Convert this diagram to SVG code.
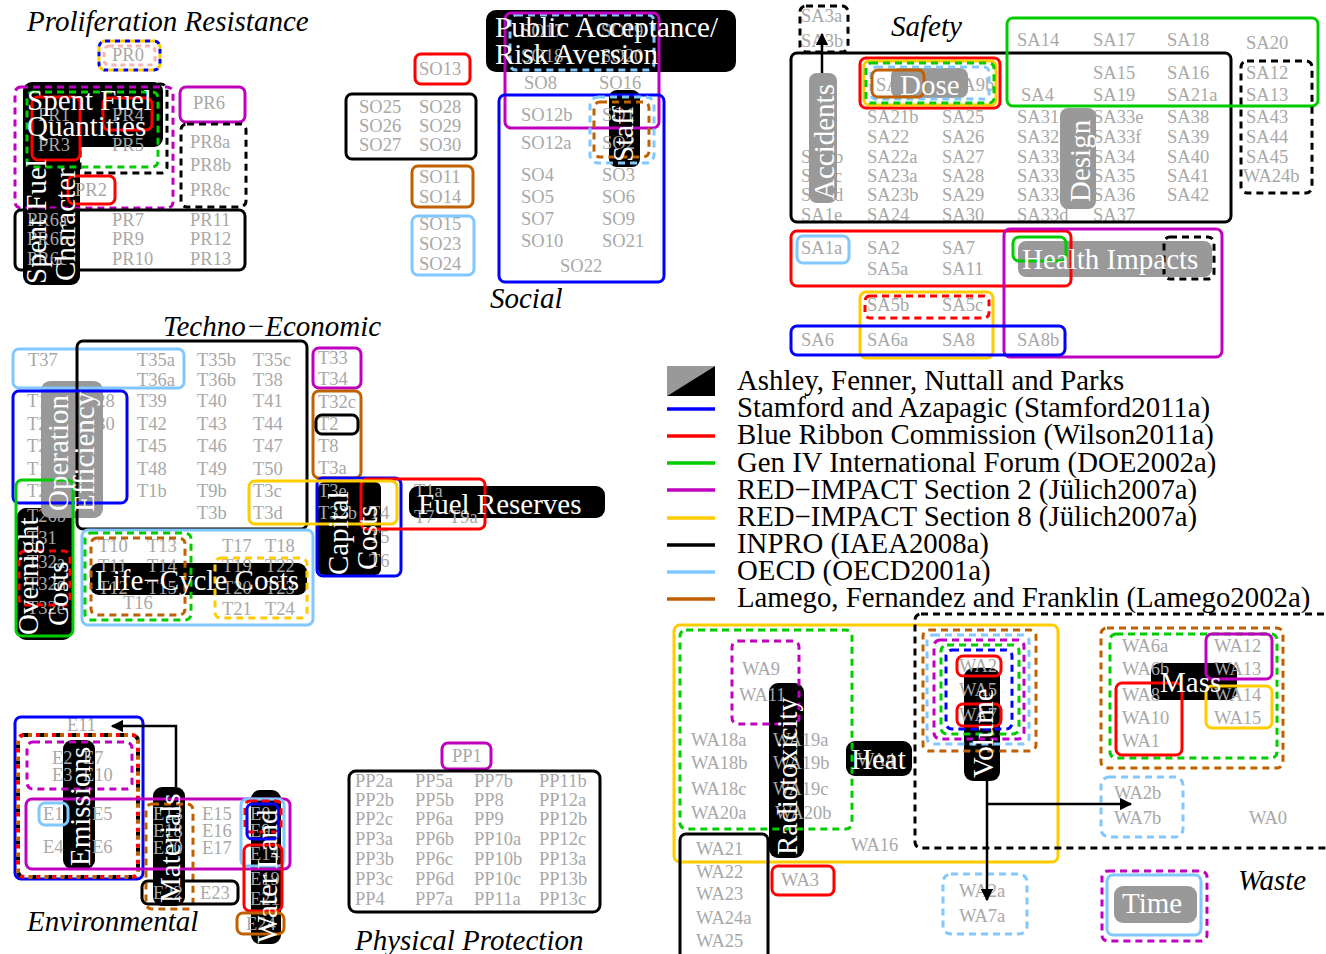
<svg xmlns="http://www.w3.org/2000/svg" width="1326" height="954" viewBox="0 0 1326 954">
<defs>
<marker id="ah" viewBox="0 0 10 10" refX="9" refY="5" markerWidth="5" markerHeight="5" orient="auto"><path d="M0,0 L10,5 L0,10 z" fill="#000"/></marker>
<style>
.s{fill:none;stroke-width:3}
.k{stroke:#000}.b{stroke:#0000ff}.r{stroke:#ff0000}.g{stroke:#00cc00}.m{stroke:#bf00bf}.y{stroke:#ffcc00}.c{stroke:#80c8ff}.o{stroke:#c06000}
.d{stroke-dasharray:7 5}
.fk{fill:#000}.fg{fill:#999}
.t{font-family:"Liberation Serif",serif;font-size:18.5px;fill:#a8a8a8}
.w{font-family:"Liberation Serif",serif;font-size:29px;fill:#fff}
.h{font-family:"Liberation Serif",serif;font-size:29px;font-style:italic;fill:#000}
.l{font-family:"Liberation Serif",serif;font-size:28.8px;fill:#000}
.ln{stroke-width:3.5}
.cn{fill:none;stroke:#000;stroke-width:2.5;marker-end:url(#ah)}
</style>
</defs>
<rect width="1326" height="954" fill="#fff"/>

<g id="proliferation">
<text class="h" x="27" y="31">Proliferation Resistance</text>
<rect class="s b" x="99" y="41" width="61" height="29" rx="6" stroke-dasharray="5 5"/>
<rect class="s y" x="99" y="41" width="61" height="29" rx="6" stroke-dasharray="5 5" stroke-dashoffset="5"/>
<rect class="s" x="104" y="46" width="51" height="19" rx="5" stroke="#f6b4b4" stroke-dasharray="5 4"/>
<text class="t" x="112" y="61">PR0</text>
<rect class="s k d" x="80" y="84" width="87" height="89" rx="6"/>
<rect class="fk" x="23" y="82" width="140" height="65" rx="9"/>
<rect class="fk" x="23" y="133" width="57" height="152" rx="9"/>
<text class="t" x="38" y="121">PR1</text><text class="t" x="112" y="121">PR4</text>
<text class="t" x="38" y="151">PR3</text><text class="t" x="112" y="151">PR5</text>
<text class="t" x="75" y="196">PR2</text>
<text class="t" x="193" y="109">PR6</text>
<text class="t" x="190" y="148">PR8a</text><text class="t" x="190" y="171">PR8b</text><text class="t" x="190" y="196">PR8c</text>
<text class="t" x="27" y="226">PR6a</text><text class="t" x="27" y="245">PR6b</text><text class="t" x="27" y="265">PR6c</text>
<text class="t" x="112" y="226">PR7</text><text class="t" x="112" y="245">PR9</text><text class="t" x="112" y="265">PR10</text>
<text class="t" x="190" y="226">PR11</text><text class="t" x="190" y="245">PR12</text><text class="t" x="190" y="265">PR13</text>
<rect class="s m d" x="15" y="87" width="158" height="121" rx="6"/>
<rect class="s g d" x="27" y="92" width="131" height="75" rx="6"/>
<rect class="s r" x="32" y="97" width="48" height="63" rx="6"/>
<rect class="s r" x="103" y="98" width="49" height="32" rx="6"/>
<rect class="s r" x="68" y="176" width="47" height="28" rx="6"/>
<rect class="s m" x="180" y="87" width="65" height="35" rx="6"/>
<rect class="s k d" x="181" y="124" width="65" height="83" rx="6"/>
<rect class="s k" x="15" y="210" width="230" height="60" rx="6"/>
<text class="w" x="27" y="110">Spent Fuel</text>
<text class="w" x="27" y="136">Quantities</text>
<text class="w" transform="translate(46,284) rotate(-90)">Spent Fuel</text>
<text class="w" transform="translate(75,281) rotate(-90)">Character</text>
</g>

<g id="social">
<text class="h" x="490" y="308">Social</text>
<rect class="fk" x="486" y="10" width="250" height="62" rx="10"/>
<rect class="fk" x="609" y="90" width="31" height="77" rx="8"/>
<text class="t" x="419" y="75">SO13</text>
<text class="t" x="359" y="113">SO25</text><text class="t" x="419" y="113">SO28</text>
<text class="t" x="359" y="132">SO26</text><text class="t" x="419" y="132">SO29</text>
<text class="t" x="359" y="151">SO27</text><text class="t" x="419" y="151">SO30</text>
<text class="t" x="419" y="183">SO11</text><text class="t" x="419" y="203">SO14</text>
<text class="t" x="419" y="230">SO15</text><text class="t" x="419" y="250">SO23</text><text class="t" x="419" y="270">SO24</text>
<text class="t" x="521" y="37">SO17</text><text class="t" x="601" y="37">SO19</text>
<text class="t" x="521" y="62">SO18</text><text class="t" x="601" y="62">SO20</text>
<text class="t" x="524" y="89">SO8</text><text class="t" x="599" y="89">SO16</text>
<text class="t" x="521" y="121">SO12b</text><text class="t" x="602" y="121">SO1</text>
<text class="t" x="521" y="149">SO12a</text><text class="t" x="602" y="149">SO2</text>
<text class="t" x="521" y="181">SO4</text><text class="t" x="602" y="181">SO3</text>
<text class="t" x="521" y="203">SO5</text><text class="t" x="602" y="203">SO6</text>
<text class="t" x="521" y="225">SO7</text><text class="t" x="602" y="225">SO9</text>
<text class="t" x="521" y="247">SO10</text><text class="t" x="602" y="247">SO21</text>
<text class="t" x="560" y="272">SO22</text>
<rect class="s r" x="415" y="54" width="55" height="30" rx="6"/>
<rect class="s k" x="346" y="94" width="130" height="65" rx="6"/>
<rect class="s o" x="412" y="166" width="61" height="41" rx="6"/>
<rect class="s c" x="412" y="216" width="62" height="59" rx="6"/>
<rect class="s c d" x="510" y="15" width="144" height="55" rx="6"/>
<rect class="s m" x="505" y="13" width="154" height="115" rx="6"/>
<rect class="s b" x="499" y="95" width="165" height="187" rx="6"/>
<rect class="s c d" x="590" y="97" width="64" height="66" rx="8"/>
<rect class="s o d" x="594" y="102" width="55" height="55" rx="6"/>
<text class="w" x="495" y="37">Public Acceptance/</text>
<text class="w" x="495" y="64">Risk Aversion</text>
<text class="w" transform="translate(633,162) rotate(-90)">Staff</text>
</g>

<g id="safety">
<text class="h" x="891" y="36">Safety</text>
<text class="t" x="801" y="22">SA3a</text><text class="t" x="801" y="47">SA3b</text>
<text class="t" x="876" y="91">SA9a</text><text class="t" x="952" y="91">SA9b</text>
<text class="t" x="801" y="163">SA1b</text><text class="t" x="801" y="182">SA1c</text><text class="t" x="801" y="201">SA1d</text><text class="t" x="801" y="221">SA1e</text>
<text class="t" x="867" y="123">SA21b</text><text class="t" x="867" y="143">SA22</text><text class="t" x="867" y="163">SA22a</text><text class="t" x="867" y="182">SA23a</text><text class="t" x="867" y="201">SA23b</text><text class="t" x="867" y="221">SA24</text>
<text class="t" x="942" y="123">SA25</text><text class="t" x="942" y="143">SA26</text><text class="t" x="942" y="163">SA27</text><text class="t" x="942" y="182">SA28</text><text class="t" x="942" y="201">SA29</text><text class="t" x="942" y="221">SA30</text>
<text class="t" x="1017" y="46">SA14</text><text class="t" x="1021" y="101">SA4</text><text class="t" x="1017" y="123">SA31</text><text class="t" x="1017" y="143">SA32</text><text class="t" x="1017" y="163">SA33a</text><text class="t" x="1017" y="182">SA33b</text><text class="t" x="1017" y="201">SA33c</text><text class="t" x="1017" y="221">SA33d</text>
<text class="t" x="1093" y="46">SA17</text><text class="t" x="1093" y="79">SA15</text><text class="t" x="1093" y="101">SA19</text><text class="t" x="1093" y="123">SA33e</text><text class="t" x="1093" y="143">SA33f</text><text class="t" x="1093" y="163">SA34</text><text class="t" x="1093" y="182">SA35</text><text class="t" x="1093" y="201">SA36</text><text class="t" x="1093" y="221">SA37</text>
<text class="t" x="1167" y="46">SA18</text><text class="t" x="1167" y="79">SA16</text><text class="t" x="1167" y="101">SA21a</text><text class="t" x="1167" y="123">SA38</text><text class="t" x="1167" y="143">SA39</text><text class="t" x="1167" y="163">SA40</text><text class="t" x="1167" y="182">SA41</text><text class="t" x="1167" y="201">SA42</text>
<text class="t" x="1246" y="49">SA20</text><text class="t" x="1246" y="79">SA12</text><text class="t" x="1246" y="101">SA13</text><text class="t" x="1246" y="123">SA43</text><text class="t" x="1246" y="143">SA44</text><text class="t" x="1246" y="163">SA45</text><text class="t" x="1243" y="182">WA24b</text>
<text class="t" x="801" y="254">SA1a</text><text class="t" x="867" y="254">SA2</text><text class="t" x="942" y="254">SA7</text>
<text class="t" x="867" y="275">SA5a</text><text class="t" x="942" y="275">SA11</text>
<text class="t" x="867" y="311">SA5b</text><text class="t" x="942" y="311">SA5c</text>
<text class="t" x="801" y="346">SA6</text><text class="t" x="867" y="346">SA6a</text><text class="t" x="942" y="346">SA8</text><text class="t" x="1017" y="346">SA8b</text>
<rect class="fg" x="809" y="73" width="28" height="130" rx="8"/>
<rect class="fg" x="891" y="68" width="77" height="30" rx="8"/>
<rect class="fg" x="1060" y="108" width="36" height="101" rx="8"/>
<rect class="fg" x="1018" y="241" width="194" height="36" rx="8"/>
<rect class="s k d" x="800" y="6" width="48" height="46" rx="6"/>
<rect class="s k" x="791" y="53" width="440" height="169" rx="6"/>
<rect class="s g" x="1007" y="18" width="311" height="88" rx="6"/>
<rect class="s k d" x="1241" y="61" width="71" height="132" rx="6"/>
<rect class="s r" x="860" y="58" width="140" height="50" rx="6"/>
<rect class="s y" x="864" y="61" width="132" height="44" rx="5"/>
<rect class="s g d" x="866" y="63" width="128" height="40" rx="5"/>
<rect class="s c d" x="871" y="67" width="118" height="32" rx="5"/>
<rect class="s o" x="872" y="70" width="52" height="27" rx="6"/>
<rect class="s r" x="791" y="231" width="280" height="55" rx="6"/>
<rect class="s c" x="797" y="236" width="52" height="27" rx="6"/>
<rect class="s m" x="1004" y="229" width="218" height="128" rx="6"/>
<rect class="s g" x="1013" y="237" width="53" height="24" rx="6"/>
<rect class="s k d" x="1164" y="237" width="50" height="42" rx="6"/>
<rect class="s y" x="860" y="292" width="133" height="66" rx="6"/>
<rect class="s r d" x="865" y="296" width="124" height="22" rx="5"/>
<rect class="s b" x="791" y="326" width="274" height="29" rx="6"/>
<text class="w" x="900" y="95">Dose</text>
<text class="w" transform="translate(834,200) rotate(-90)">Accidents</text>
<text class="w" transform="translate(1090,202) rotate(-90)">Design</text>
<text class="w" x="1022" y="269">Health Impacts</text>
</g>

<g id="legend">
<polygon points="667,366 715,366 667,396" fill="#999"/>
<polygon points="715,366 715,396 667,396" fill="#000"/>
<line class="ln" x1="667" y1="409" x2="715" y2="409" stroke="#0000ff"/>
<line class="ln" x1="667" y1="436" x2="715" y2="436" stroke="#ff0000"/>
<line class="ln" x1="667" y1="463" x2="715" y2="463" stroke="#00cc00"/>
<line class="ln" x1="667" y1="490" x2="715" y2="490" stroke="#bf00bf"/>
<line class="ln" x1="667" y1="518" x2="715" y2="518" stroke="#ffcc00"/>
<line class="ln" x1="667" y1="545" x2="715" y2="545" stroke="#000"/>
<line class="ln" x1="667" y1="572" x2="715" y2="572" stroke="#80c8ff"/>
<line class="ln" x1="667" y1="599" x2="715" y2="599" stroke="#c06000"/>
<text class="l" x="737" y="390">Ashley, Fenner, Nuttall and Parks</text>
<text class="l" x="737" y="417">Stamford and Azapagic (Stamford2011a)</text>
<text class="l" x="737" y="444">Blue Ribbon Commission (Wilson2011a)</text>
<text class="l" x="737" y="472">Gen IV International Forum (DOE2002a)</text>
<text class="l" x="737" y="499">RED−IMPACT Section 2 (Jülich2007a)</text>
<text class="l" x="737" y="526">RED−IMPACT Section 8 (Jülich2007a)</text>
<text class="l" x="737" y="553">INPRO (IAEA2008a)</text>
<text class="l" x="737" y="580">OECD (OECD2001a)</text>
<text class="l" x="737" y="607">Lamego, Fernandez and Franklin (Lamego2002a)</text>
</g>

<g id="techno-economic">
<text class="h" x="163" y="336">Techno−Economic</text>
<rect class="fk" x="17" y="508" width="55" height="132" rx="9"/>
<rect class="fk" x="90" y="563" width="217" height="32" rx="9"/>
<rect class="fk" x="318" y="482" width="63" height="93" rx="6"/>
<rect class="fk" x="409" y="486" width="196" height="32" rx="9"/>
<text class="t" x="28" y="366">T37</text><text class="t" x="137" y="366">T35a</text><text class="t" x="137" y="386">T36a</text>
<text class="t" x="197" y="366">T35b</text><text class="t" x="197" y="386">T36b</text><text class="t" x="253" y="366">T35c</text><text class="t" x="253" y="386">T38</text>
<text class="t" x="27" y="407">T1c</text><text class="t" x="85" y="407">T28</text>
<text class="t" x="27" y="430">T27</text><text class="t" x="85" y="430">T30</text>
<text class="t" x="27" y="452">T29</text><text class="t" x="27" y="475">T1d</text><text class="t" x="27" y="497">T25</text>
<text class="t" x="137" y="407">T39</text><text class="t" x="197" y="407">T40</text><text class="t" x="253" y="407">T41</text>
<text class="t" x="137" y="430">T42</text><text class="t" x="197" y="430">T43</text><text class="t" x="253" y="430">T44</text>
<text class="t" x="137" y="452">T45</text><text class="t" x="197" y="452">T46</text><text class="t" x="253" y="452">T47</text>
<text class="t" x="137" y="475">T48</text><text class="t" x="197" y="475">T49</text><text class="t" x="253" y="475">T50</text>
<text class="t" x="137" y="497">T1b</text><text class="t" x="197" y="497">T9b</text><text class="t" x="253" y="497">T3c</text>
<text class="t" x="197" y="519">T3b</text><text class="t" x="253" y="519">T3d</text>
<text class="t" x="27" y="522">T26b</text><text class="t" x="27" y="544">T31</text><text class="t" x="27" y="568">T32a</text><text class="t" x="27" y="590">T32d</text><text class="t" x="27" y="614">T32e</text>
<text class="t" x="318" y="364">T33</text><text class="t" x="318" y="385">T34</text>
<text class="t" x="318" y="408">T32c</text><text class="t" x="318" y="430">T2</text><text class="t" x="318" y="452">T8</text><text class="t" x="318" y="474">T3a</text>
<text class="t" x="318" y="497">T3e</text><text class="t" x="318" y="519">T32b</text>
<text class="t" x="369" y="519">T4</text><text class="t" x="369" y="543">T5</text><text class="t" x="369" y="567">T6</text>
<text class="t" x="414" y="497">T1a</text><text class="t" x="414" y="523">T7</text><text class="t" x="449" y="523">T9a</text>
<text class="t" x="98" y="552">T10</text><text class="t" x="147" y="552">T13</text><text class="t" x="222" y="552">T17</text><text class="t" x="265" y="552">T18</text>
<text class="t" x="98" y="572">T11</text><text class="t" x="147" y="572">T14</text><text class="t" x="222" y="572">T19</text><text class="t" x="265" y="572">T22</text>
<text class="t" x="98" y="594">T12</text><text class="t" x="147" y="594">T15</text><text class="t" x="222" y="594">T20</text><text class="t" x="265" y="594">T23</text>
<text class="t" x="123" y="609">T16</text><text class="t" x="222" y="615">T21</text><text class="t" x="265" y="615">T24</text>
<rect class="fg" x="41" y="381" width="62" height="137" rx="9"/>
<rect class="s c" x="13" y="349" width="171" height="39" rx="6"/>
<rect class="s k" x="77" y="341" width="230" height="188" rx="6"/>
<rect class="s b" x="13" y="391" width="114" height="112" rx="6"/>
<rect class="s g" x="16" y="480" width="57" height="156" rx="6"/>
<rect class="s r d" x="19" y="551" width="51" height="54" rx="6"/>
<rect class="s c" x="82" y="530" width="231" height="95" rx="6"/>
<rect class="s g d" x="85" y="533" width="106" height="87" rx="6"/>
<rect class="s o d" x="91" y="538" width="94" height="77" rx="6"/>
<rect class="s y d" x="215" y="558" width="92" height="60" rx="6"/>
<rect class="s m" x="313" y="348" width="48" height="40" rx="6"/>
<rect class="s o" x="313" y="391" width="48" height="87" rx="6"/>
<rect class="s k" x="316" y="415" width="42" height="19" rx="6"/>
<rect class="s b" x="317" y="478" width="84" height="98" rx="6"/>
<rect class="s r" x="361" y="479" width="124" height="50" rx="6"/>
<rect class="s y" x="249" y="481" width="148" height="43" rx="6"/>
<text class="w" transform="translate(68,511) rotate(-90)">Operation</text>
<text class="w" transform="translate(94,512) rotate(-90)">Efficiency</text>
<text class="w" transform="translate(38,635) rotate(-90)">Overnight</text>
<text class="w" transform="translate(68,626) rotate(-90)">Costs</text>
<text class="w" x="95" y="590">Life−Cycle Costs</text>
<text class="w" transform="translate(348,575) rotate(-90)">Capital</text>
<text class="w" transform="translate(377,570) rotate(-90)">Costs</text>
<text class="w" x="418" y="514">Fuel Reserves</text>
</g>

<g id="environmental">
<text class="h" x="27" y="931">Environmental</text>
<rect class="fk" x="63" y="740" width="32" height="129" rx="9"/>
<rect class="fk" x="153" y="787" width="32" height="119" rx="9"/>
<rect class="fk" x="251" y="790" width="30" height="154" rx="9"/>
<text class="t" x="67" y="731">E11</text>
<text class="t" x="52" y="764">E2</text><text class="t" x="83" y="764">E7</text>
<text class="t" x="52" y="781">E3</text><text class="t" x="83" y="781">E10</text>
<text class="t" x="43" y="820">E1</text><text class="t" x="92" y="820">E5</text>
<text class="t" x="43" y="853">E4</text><text class="t" x="92" y="853">E6</text>
<text class="t" x="153" y="820">E13</text><text class="t" x="153" y="837">E18</text><text class="t" x="153" y="854">E20</text>
<text class="t" x="202" y="820">E15</text><text class="t" x="202" y="837">E16</text><text class="t" x="202" y="854">E17</text>
<text class="t" x="153" y="899">E22</text><text class="t" x="200" y="899">E23</text>
<text class="t" x="250" y="820">E8</text><text class="t" x="250" y="837">E9</text><text class="t" x="250" y="860">E14</text>
<text class="t" x="250" y="885">E19</text><text class="t" x="250" y="905">E21</text><text class="t" x="246" y="930">E24</text>
<rect class="s b" x="15" y="717" width="128" height="162" rx="6"/>
<rect x="18" y="735" width="120" height="142" rx="6" fill="none" stroke="#000" stroke-width="4" stroke-dasharray="4 12"/>
<rect x="18" y="735" width="120" height="142" rx="6" fill="none" stroke="#c06000" stroke-width="4" stroke-dasharray="4 12" stroke-dashoffset="-4"/>
<rect x="18" y="735" width="120" height="142" rx="6" fill="none" stroke="#ff0000" stroke-width="4" stroke-dasharray="4 12" stroke-dashoffset="-12"/>
<rect class="s m d" x="27" y="742" width="105" height="47" rx="6"/>
<rect class="s c" x="39" y="803" width="29" height="22" rx="6"/>
<rect class="s m" x="26" y="799" width="264" height="70" rx="6"/>
<rect class="s o d" x="146" y="804" width="47" height="105" rx="6"/>
<rect class="s k" x="142" y="881" width="96" height="23" rx="6"/>
<rect class="s c" x="241" y="799" width="43" height="67" rx="6"/>
<rect class="s r d" x="245" y="801" width="36" height="31" rx="5"/>
<rect class="s b" x="247" y="804" width="31" height="35" rx="5"/>
<rect class="s r" x="244" y="845" width="38" height="66" rx="6"/>
<rect class="s o" x="237" y="913" width="47" height="21" rx="6"/>
<text class="w" transform="translate(90,866) rotate(-90)">Emissions</text>
<text class="w" transform="translate(180,903) rotate(-90)">Materials</text>
<text class="w" transform="translate(277,869) rotate(-90)">Land</text>
<text class="w" transform="translate(277,943) rotate(-90)">Water</text>
</g>

<g id="physical-protection">
<text class="h" x="355" y="950">Physical Protection</text>
<text class="t" x="452" y="762">PP1</text>
<rect class="s m" x="442" y="743" width="49" height="26" rx="6"/>
<rect class="s k" x="349" y="771" width="251" height="141" rx="7"/>
<text class="t" x="355" y="787">PP2a</text><text class="t" x="415" y="787">PP5a</text><text class="t" x="474" y="787">PP7b</text><text class="t" x="539" y="787">PP11b</text>
<text class="t" x="355" y="806">PP2b</text><text class="t" x="415" y="806">PP5b</text><text class="t" x="474" y="806">PP8</text><text class="t" x="539" y="806">PP12a</text>
<text class="t" x="355" y="825">PP2c</text><text class="t" x="415" y="825">PP6a</text><text class="t" x="474" y="825">PP9</text><text class="t" x="539" y="825">PP12b</text>
<text class="t" x="355" y="845">PP3a</text><text class="t" x="415" y="845">PP6b</text><text class="t" x="474" y="845">PP10a</text><text class="t" x="539" y="845">PP12c</text>
<text class="t" x="355" y="865">PP3b</text><text class="t" x="415" y="865">PP6c</text><text class="t" x="474" y="865">PP10b</text><text class="t" x="539" y="865">PP13a</text>
<text class="t" x="355" y="885">PP3c</text><text class="t" x="415" y="885">PP6d</text><text class="t" x="474" y="885">PP10c</text><text class="t" x="539" y="885">PP13b</text>
<text class="t" x="355" y="905">PP4</text><text class="t" x="415" y="905">PP7a</text><text class="t" x="474" y="905">PP11a</text><text class="t" x="539" y="905">PP13c</text>
</g>

<g id="waste">
<text class="h" x="1238" y="890">Waste</text>
<rect class="fk" x="769" y="683" width="35" height="175" rx="9"/>
<rect class="fk" x="846" y="741" width="66" height="35" rx="9"/>
<rect class="fk" x="964" y="668" width="36" height="113" rx="9"/>
<rect class="fk" x="1151" y="663" width="86" height="37" rx="9"/>
<text class="t" x="742" y="675">WA9</text><text class="t" x="739" y="701">WA11</text>
<text class="t" x="691" y="746">WA18a</text><text class="t" x="691" y="769">WA18b</text><text class="t" x="691" y="795">WA18c</text><text class="t" x="691" y="819">WA20a</text>
<text class="t" x="773" y="746">WA19a</text><text class="t" x="773" y="769">WA19b</text><text class="t" x="773" y="795">WA19c</text><text class="t" x="775" y="819">WA20b</text>
<text class="t" x="857" y="766">WA4</text>
<text class="t" x="851" y="851">WA16</text>
<text class="t" x="696" y="855">WA21</text><text class="t" x="696" y="878">WA22</text><text class="t" x="696" y="900">WA23</text><text class="t" x="696" y="924">WA24a</text><text class="t" x="696" y="947">WA25</text>
<text class="t" x="781" y="886">WA3</text>
<text class="t" x="959" y="672">WA2</text><text class="t" x="959" y="696">WA5</text><text class="t" x="959" y="721">WA7</text>
<text class="t" x="959" y="897">WA2a</text><text class="t" x="959" y="922">WA7a</text>
<text class="t" x="1122" y="652">WA6a</text><text class="t" x="1214" y="652">WA12</text>
<text class="t" x="1122" y="675">WA6b</text><text class="t" x="1214" y="675">WA13</text>
<text class="t" x="1122" y="701">WA8</text><text class="t" x="1214" y="701">WA14</text>
<text class="t" x="1122" y="724">WA10</text><text class="t" x="1214" y="724">WA15</text>
<text class="t" x="1122" y="747">WA1</text>
<text class="t" x="1114" y="799">WA2b</text><text class="t" x="1114" y="824">WA7b</text>
<text class="t" x="1249" y="824">WA0</text>
<rect class="fg" x="1114" y="886" width="83" height="37" rx="9"/>
<rect class="s y" x="674" y="625" width="384" height="237" rx="6"/>
<rect class="s k d" x="915" y="614" width="430" height="234" rx="6"/>
<rect class="s g d" x="680" y="630" width="172" height="199" rx="6"/>
<rect class="s m d" x="732" y="641" width="67" height="83" rx="6"/>
<rect class="s k" x="680" y="834" width="88" height="130" rx="6"/>
<rect class="s r" x="772" y="866" width="62" height="29" rx="6"/>
<rect class="s o d" x="923" y="630" width="113" height="121" rx="6"/>
<rect class="s c d" x="927" y="635" width="102" height="109" rx="6"/>
<rect class="s m d" x="934" y="640" width="90" height="99" rx="6"/>
<rect class="s g d" x="941" y="645" width="78" height="89" rx="6"/>
<rect class="s b d" x="946" y="650" width="66" height="79" rx="6"/>
<rect class="s r" x="957" y="656" width="44" height="20" rx="6"/>
<rect class="s r" x="957" y="704" width="44" height="22" rx="6"/>
<rect class="s c d" x="943" y="874" width="84" height="60" rx="8"/>
<rect class="s o d" x="1101" y="628" width="182" height="140" rx="6"/>
<rect class="s g d" x="1110" y="634" width="167" height="124" rx="6"/>
<rect class="s m" x="1206" y="634" width="66" height="45" rx="6"/>
<rect class="s y" x="1206" y="686" width="66" height="42" rx="6"/>
<rect class="s r" x="1116" y="683" width="66" height="72" rx="6"/>
<rect class="s c d" x="1101" y="777" width="82" height="60" rx="8"/>
<rect class="s m d" x="1102" y="871" width="105" height="70" rx="6"/>
<rect class="s c" x="1107" y="875" width="94" height="60" rx="6"/>
<text class="w" transform="translate(797,855) rotate(-90)">Radiotoxicity</text>
<text class="w" x="851" y="769">Heat</text>
<text class="w" transform="translate(993,778) rotate(-90)">Volume</text>
<text class="w" x="1160" y="692">Mass</text>
<text class="w" x="1122" y="913">Time</text>
</g>

<g id="connectors">
<path class="cn" d="M822,73 V34"/>
<path class="cn" d="M176,787 V726 H112"/>
<path class="cn" d="M987,781 V900"/>
<path class="cn" d="M987,804 H1131"/>
</g>
</svg>
